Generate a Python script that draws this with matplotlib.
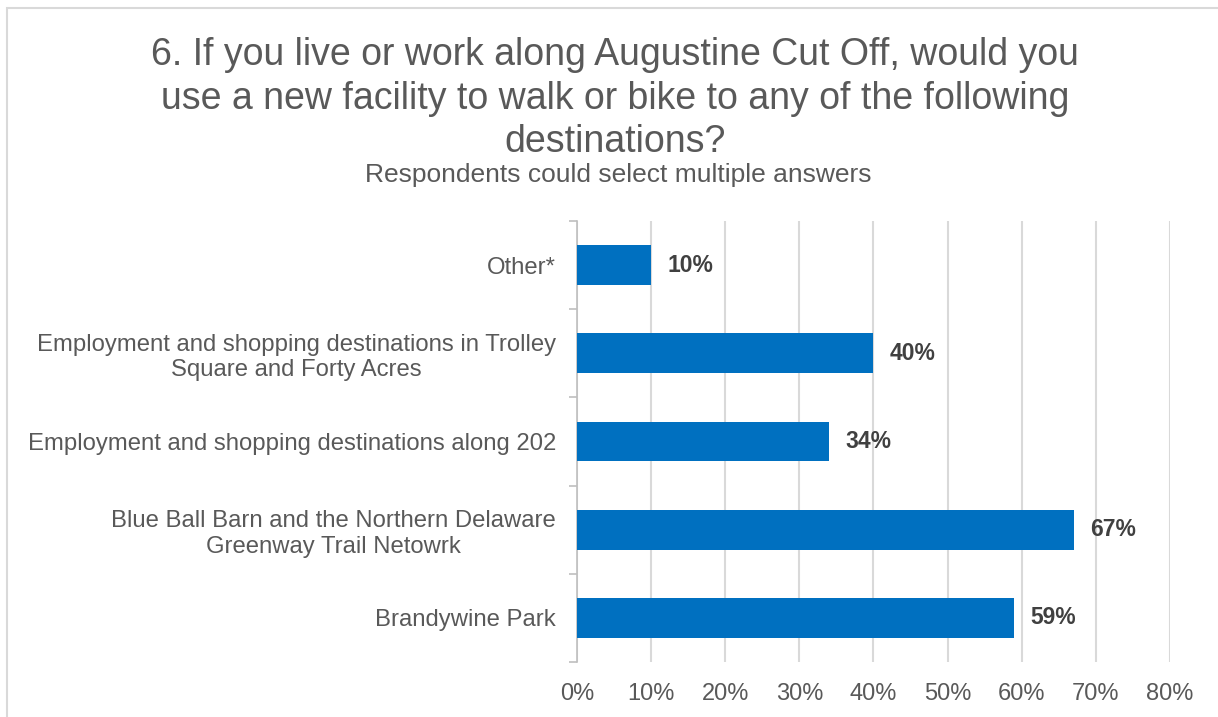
import matplotlib.pyplot as plt
from matplotlib.patches import Rectangle
from matplotlib.ticker import FixedLocator, PercentFormatter

plt.rcParams["font.family"] = ["Liberation Sans", "DejaVu Sans"]

categories = [
    "Brandywine Park",
    "Blue Ball Barn and the Northern Delaware\nGreenway Trail Netowrk",
    "Employment and shopping destinations along 202",
    "Employment and shopping destinations in Trolley\nSquare and Forty Acres",
    "Other*",
]
shares = [0.59, 0.67, 0.34, 0.40, 0.10]
x_ticks = [0, 0.1, 0.2, 0.3, 0.4, 0.5, 0.6, 0.7, 0.8]

title = ("6. If you live or work along Augustine Cut Off, would you\n"
         "use a new facility to walk or bike to any of the following\n"
         "destinations?")
subtitle = "Respondents could select multiple answers"

text_grey = "#595959"
label_grey = "#404040"
grid_grey = "#D9D9D9"
bar_blue = "#0070C0"

fig = plt.figure(figsize=(12.18, 7.17), dpi=100)
ax = fig.add_axes([0.4737, 0.0767, 0.4869, 0.6151])

# chart frame, cut off at the right and bottom edges
fig.patches.append(Rectangle((7 / 1218, -0.1), 1.2, 1 - 8 / 717 + 0.1,
                             transform=fig.transFigure, fill=False,
                             edgecolor="#D9D9D9", linewidth=1.5))

ypos = range(len(categories))
ax.barh(ypos, shares, height=0.45, color=bar_blue, zorder=3)
for y, v in zip(ypos, shares):
    ax.text(v + 0.022, y, f"{v:.0%}", va="center", ha="left",
            fontsize=16.5, fontweight="bold", color=label_grey)

ax.set_xlim(0, 0.8)
ax.set_ylim(-0.5, len(categories) - 0.5)
ax.xaxis.set_major_locator(FixedLocator(x_ticks))
ax.xaxis.set_major_formatter(PercentFormatter(1.0, decimals=0))
ax.grid(axis="x", color=grid_grey, linewidth=1.5, zorder=0)

ax.set_yticks(list(ypos))
ax.set_yticklabels(categories, multialignment="center")
ax.set_yticks([i - 0.5 for i in range(len(categories) + 1)], minor=True)
ax.tick_params(axis="y", which="major", length=0, pad=15,
               labelsize=17.2, labelcolor=text_grey)
ax.tick_params(axis="y", which="minor", length=6, width=1.2,
               color="#BFBFBF")
ax.tick_params(axis="x", length=0, pad=15, labelsize=17,
               labelcolor=text_grey)

for side in ["top", "right", "bottom"]:
    ax.spines[side].set_visible(False)
ax.spines["left"].set_color("#BFBFBF")
ax.spines["left"].set_linewidth(1.2)

fig.text(0.505, 0.948, title, ha="center", va="top", fontsize=27,
         color=text_grey, linespacing=1.27)
fig.text(0.508, 0.756, subtitle, ha="center", va="center", fontsize=19,
         color=text_grey)

fig.savefig("out.png", dpi=100, facecolor="white")
